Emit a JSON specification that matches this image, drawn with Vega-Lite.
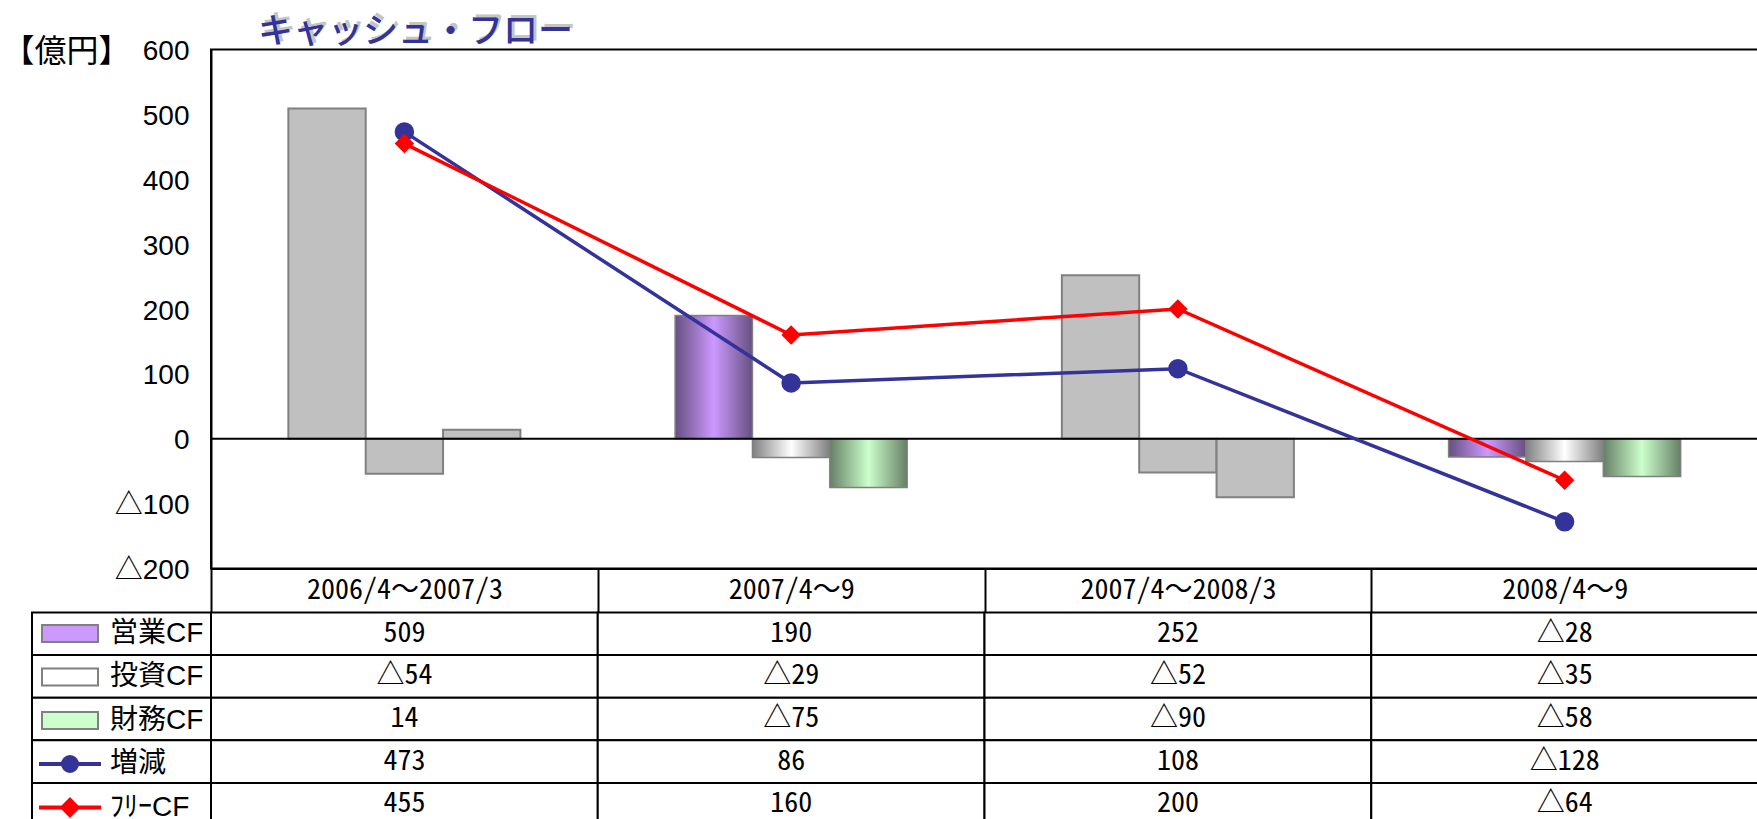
{
  "$schema": "https://vega.github.io/schema/vega-lite/v6.json",
  "background": "white",
  "padding": {"left": 1, "top": 10.5, "right": 0, "bottom": 0},
  "bounds": "flush",
  "columns": 2,
  "spacing": {"row": 44, "column": 0},
  "config": {"view": {"stroke": null}, "font": "Liberation Sans"},
  "title": {"text": "キャッシュ・フロー", "anchor": "start", "frame": "group", "font": "Noto Sans CJK JP", "fontSize": 35, "fontWeight": 500, "color": "#333399", "dx": 226, "offset": -39.3},
  "datasets": {
    "cf": [
      {"period": "2006/4～2007/3", "kind": "通期", "series": "営業CF", "value": 509},
      {"period": "2006/4～2007/3", "kind": "通期", "series": "投資CF", "value": -54},
      {"period": "2006/4～2007/3", "kind": "通期", "series": "財務CF", "value": 14},
      {"period": "2006/4～2007/3", "kind": "通期", "series": "増減", "value": 473},
      {"period": "2006/4～2007/3", "kind": "通期", "series": "ﾌﾘｰCF", "value": 455},
      {"period": "2007/4～9", "kind": "半期", "series": "営業CF", "value": 190},
      {"period": "2007/4～9", "kind": "半期", "series": "投資CF", "value": -29},
      {"period": "2007/4～9", "kind": "半期", "series": "財務CF", "value": -75},
      {"period": "2007/4～9", "kind": "半期", "series": "増減", "value": 86},
      {"period": "2007/4～9", "kind": "半期", "series": "ﾌﾘｰCF", "value": 160},
      {"period": "2007/4～2008/3", "kind": "通期", "series": "営業CF", "value": 252},
      {"period": "2007/4～2008/3", "kind": "通期", "series": "投資CF", "value": -52},
      {"period": "2007/4～2008/3", "kind": "通期", "series": "財務CF", "value": -90},
      {"period": "2007/4～2008/3", "kind": "通期", "series": "増減", "value": 108},
      {"period": "2007/4～2008/3", "kind": "通期", "series": "ﾌﾘｰCF", "value": 200},
      {"period": "2008/4～9", "kind": "半期", "series": "営業CF", "value": -28},
      {"period": "2008/4～9", "kind": "半期", "series": "投資CF", "value": -35},
      {"period": "2008/4～9", "kind": "半期", "series": "財務CF", "value": -58},
      {"period": "2008/4～9", "kind": "半期", "series": "増減", "value": -128},
      {"period": "2008/4～9", "kind": "半期", "series": "ﾌﾘｰCF", "value": -64}
    ]
  },
  "resolve": {"scale": {"x": "independent", "y": "independent", "color": "independent", "shape": "independent", "fill": "independent", "stroke": "independent"}},
  "concat": [
    {
      "width": 179, "height": 519,
      "data": {"name": "cf"},
      "mark": {"type": "point", "opacity": 0}
    },
    {
      "width": 1547, "height": 519,
      "view": {"stroke": "black", "strokeWidth": 2},
      "title": {"text": "キャッシュ・フロー", "anchor": "start", "frame": "group", "font": "Noto Sans CJK JP", "fontSize": 35, "fontWeight": 500, "color": "#c4c4c4", "dx": 50, "offset": -11},
      "data": {"name": "cf"},
      "layer": [
        {
          "transform": [{"filter": {"field": "series", "oneOf": ["営業CF", "投資CF", "財務CF"]}}, {"filter": "datum.kind === '通期'"}],
          "mark": {"type": "bar", "fill": "#c0c0c0", "stroke": "#808080", "strokeWidth": 2},
          "encoding": {
            "x": {"field": "period", "type": "nominal", "sort": null,
              "scale": {"domain": ["2006/4～2007/3", "2007/4～9", "2007/4～2008/3", "2008/4～9"], "paddingInner": 0, "paddingOuter": 0},
              "axis": {"title": null, "orient": "bottom", "tickBand": "extent", "tickSize": 44, "tickWidth": 2, "tickColor": "black", "domainColor": "black", "domainWidth": 2, "labelFont": "Noto Sans Mono CJK JP, Liberation Sans Narrow, Noto Sans CJK JP", "labelFontSize": 28, "labelColor": "black", "labelBaseline": "middle", "labelPadding": -22, "labelAngle": 0, "labelLimit": 380}},
            "xOffset": {"field": "series", "type": "nominal", "scale": {"domain": ["営業CF", "投資CF", "財務CF"], "paddingInner": 0, "paddingOuter": 1}},
            "y": {"field": "value", "type": "quantitative", "scale": {"domain": [-200, 600], "nice": false, "zero": false},
              "axis": {"values": [-200, -100, 0, 100, 200, 300, 400, 500, 600], "labelExpr": "datum.value < 0 ? '△' + abs(datum.value) : datum.label", "labelFont": "Liberation Sans, Noto Sans CJK JP", "labelFontSize": 28, "labelColor": "black", "labelOffset": 2, "ticks": false, "labelPadding": 22, "domainColor": "black", "domainWidth": 2, "grid": false, "title": "【億円】", "titleAngle": 0, "titleAlign": "left", "titleBaseline": "middle", "titleX": -209, "titleY": 2, "titleFont": "Noto Sans CJK JP", "titleFontSize": 32, "titleFontWeight": "normal", "titleColor": "black"}}
          }
        },
        {
          "transform": [{"filter": "datum.series === '営業CF' && datum.kind === '半期'"}],
          "mark": {"type": "bar", "stroke": "#808080", "strokeWidth": 1.5,
            "fill": {"gradient": "linear", "x1": 0, "y1": 0, "x2": 1, "y2": 0, "stops": [{"offset": 0, "color": "#665080"}, {"offset": 0.5, "color": "#cc99ff"}, {"offset": 1, "color": "#665080"}]}},
          "encoding": {
            "x": {"field": "period", "type": "nominal", "sort": null},
            "xOffset": {"field": "series", "type": "nominal", "scale": {"domain": ["営業CF", "投資CF", "財務CF"], "paddingInner": 0, "paddingOuter": 1}},
            "y": {"field": "value", "type": "quantitative"}
          }
        },
        {
          "transform": [{"filter": "datum.series === '投資CF' && datum.kind === '半期'"}],
          "mark": {"type": "bar", "stroke": "#808080", "strokeWidth": 1.5,
            "fill": {"gradient": "linear", "x1": 0, "y1": 0, "x2": 1, "y2": 0, "stops": [{"offset": 0, "color": "#808080"}, {"offset": 0.5, "color": "#ffffff"}, {"offset": 1, "color": "#808080"}]}},
          "encoding": {
            "x": {"field": "period", "type": "nominal", "sort": null},
            "xOffset": {"field": "series", "type": "nominal", "scale": {"domain": ["営業CF", "投資CF", "財務CF"], "paddingInner": 0, "paddingOuter": 1}},
            "y": {"field": "value", "type": "quantitative"}
          }
        },
        {
          "transform": [{"filter": "datum.series === '財務CF' && datum.kind === '半期'"}],
          "mark": {"type": "bar", "stroke": "#808080", "strokeWidth": 1.5,
            "fill": {"gradient": "linear", "x1": 0, "y1": 0, "x2": 1, "y2": 0, "stops": [{"offset": 0, "color": "#668066"}, {"offset": 0.5, "color": "#ccffcc"}, {"offset": 1, "color": "#668066"}]}},
          "encoding": {
            "x": {"field": "period", "type": "nominal", "sort": null},
            "xOffset": {"field": "series", "type": "nominal", "scale": {"domain": ["営業CF", "投資CF", "財務CF"], "paddingInner": 0, "paddingOuter": 1}},
            "y": {"field": "value", "type": "quantitative"}
          }
        },
        {
          "data": {"values": [{}]},
          "mark": {"type": "rule", "stroke": "black", "strokeWidth": 2},
          "encoding": {"y": {"datum": 0, "type": "quantitative"}}
        },
        {
          "transform": [{"filter": {"field": "series", "oneOf": ["増減", "ﾌﾘｰCF"]}}],
          "mark": {"type": "line", "strokeWidth": 3.5},
          "encoding": {
            "x": {"field": "period", "type": "nominal", "sort": null},
            "y": {"field": "value", "type": "quantitative"},
            "color": {"field": "series", "type": "nominal", "scale": {"domain": ["増減", "ﾌﾘｰCF"], "range": ["#333399", "#ff0000"]}, "legend": null}
          }
        },
        {
          "transform": [{"filter": {"field": "series", "oneOf": ["増減", "ﾌﾘｰCF"]}}],
          "mark": {"type": "point", "filled": true, "size": 380, "opacity": 1},
          "encoding": {
            "x": {"field": "period", "type": "nominal", "sort": null},
            "y": {"field": "value", "type": "quantitative"},
            "color": {"field": "series", "type": "nominal", "scale": {"domain": ["増減", "ﾌﾘｰCF"], "range": ["#333399", "#ff0000"]}, "legend": null},
            "shape": {"field": "series", "type": "nominal", "scale": {"domain": ["増減", "ﾌﾘｰCF"], "range": ["circle", "diamond"]}, "legend": null}
          }
        }
      ]
    },
    {
      "width": 179, "height": 213,
      "data": {"name": "cf"},
      "transform": [{"filter": "datum.period === '2006/4～2007/3'"}],
      "layer": [
        {
          "mark": {"type": "point", "filled": true, "size": 10},
          "encoding": {
            "y": {"field": "series", "type": "nominal", "sort": null, "scale": {"domain": ["営業CF", "投資CF", "財務CF", "増減", "ﾌﾘｰCF"], "paddingInner": 0, "paddingOuter": 0}, "axis": null},
            "fill": {"field": "series", "type": "nominal", "scale": {"domain": ["営業CF", "投資CF", "財務CF", "増減", "ﾌﾘｰCF"], "range": ["#cc99ff", "#ffffff", "#ccffcc", "#333399", "#ff0000"]},
              "legend": {"orient": "none", "legendX": 22, "legendY": 5, "title": null, "direction": "vertical", "symbolSize": 900, "symbolStrokeWidth": 2, "labelFont": "Liberation Sans, Noto Sans CJK JP", "labelFontSize": 28, "labelColor": "black", "labelOffset": 24, "rowPadding": 13.5, "padding": 0, "labelLimit": 200, "symbolOpacity": 1}},
            "stroke": {"field": "series", "type": "nominal", "scale": {"domain": ["営業CF", "投資CF", "財務CF", "増減", "ﾌﾘｰCF"], "range": ["#808080", "#808080", "#808080", "#333399", "#ff0000"]},
              "legend": {"orient": "none", "legendX": 22, "legendY": 5, "title": null, "direction": "vertical", "symbolSize": 900, "symbolStrokeWidth": 2, "labelFont": "Liberation Sans, Noto Sans CJK JP", "labelFontSize": 28, "labelColor": "black", "labelOffset": 24, "rowPadding": 13.5, "padding": 0, "labelLimit": 200, "symbolOpacity": 1}},
            "shape": {"field": "series", "type": "nominal", "scale": {"domain": ["営業CF", "投資CF", "財務CF", "増減", "ﾌﾘｰCF"], "range": ["M-1.867,-0.567H1.867V0.567H-1.867Z", "M-1.867,-0.567H1.867V0.567H-1.867Z", "M-1.867,-0.567H1.867V0.567H-1.867Z", "M-2,-0.067H2V0.067H-2Z M0.533,0A0.533,0.533 0 1,1 -0.533,0A0.533,0.533 0 1,1 0.533,0Z", "M-2,-0.067H2V0.067H-2Z M0,-0.6L0.6,0L0,0.6L-0.6,0Z"]},
              "legend": {"orient": "none", "legendX": 22, "legendY": 5, "title": null, "direction": "vertical", "symbolSize": 900, "symbolStrokeWidth": 2, "labelFont": "Liberation Sans, Noto Sans CJK JP", "labelFontSize": 28, "labelColor": "black", "labelOffset": 24, "rowPadding": 13.5, "padding": 0, "labelLimit": 200, "symbolOpacity": 1}}
          }
        },
        {
          "mark": {"type": "rect", "fill": "white", "stroke": "black", "strokeWidth": 2},
          "encoding": {
            "y": {"field": "series", "type": "nominal", "sort": null, "scale": {"domain": ["営業CF", "投資CF", "財務CF", "増減", "ﾌﾘｰCF"], "paddingInner": 0, "paddingOuter": 0}, "axis": null}
          }
        }
      ]
    },
    {
      "width": 1547, "height": 213,
      "data": {"name": "cf"},
      "transform": [{"calculate": "datum.value < 0 ? '△' + abs(datum.value) : '' + datum.value", "as": "label"}],
      "encoding": {
        "x": {"field": "period", "type": "nominal", "sort": null, "scale": {"domain": ["2006/4～2007/3", "2007/4～9", "2007/4～2008/3", "2008/4～9"], "paddingInner": 0, "paddingOuter": 0}, "axis": null},
        "y": {"field": "series", "type": "nominal", "sort": null, "scale": {"domain": ["営業CF", "投資CF", "財務CF", "増減", "ﾌﾘｰCF"], "paddingInner": 0, "paddingOuter": 0}, "axis": null}
      },
      "layer": [
        {"mark": {"type": "rect", "fill": "white", "stroke": "black", "strokeWidth": 2}},
        {"mark": {"type": "text", "font": "Noto Sans Mono CJK JP, Liberation Sans Narrow, Noto Sans CJK JP", "fontSize": 28, "color": "black", "baseline": "middle"}, "encoding": {"text": {"field": "label"}}}
      ]
    }
  ]
}
